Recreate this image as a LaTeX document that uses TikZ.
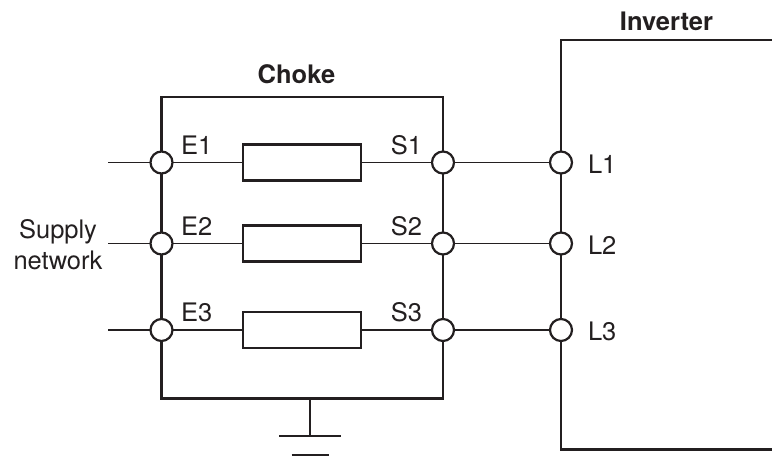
\documentclass[tikz,border=0pt]{standalone}
\usepackage{fontspec}
\setmainfont{TeX Gyre Heros}
\usetikzlibrary{positioning}
\definecolor{ink}{RGB}{35,31,32}
\tikzset{
    terminal/.style={draw=ink,fill=white,circle,line width=2.2pt,minimum size=22pt,inner sep=0pt,outer sep=0pt},
    coil/.style={draw=ink,rectangle,line width=2.4pt,minimum width=118pt,minimum height=36pt,inner sep=0pt,outer sep=0pt},
    wire/.style={ink,line width=1.3pt},
    frame/.style={ink,line width=2.7pt},
    tag/.style={inner sep=0pt,outer sep=0pt,text=ink},
}

\begin{document}
\begin{tikzpicture}[x=1pt,y=-1pt,font=\fontsize{25.5}{31}\selectfont]
    \useasboundingbox (0,0) rectangle (772,468);
    % choke and inverter frames
    \draw[frame] (161.5,97) rectangle (443,398.5);
    \draw[frame] (772,40) -| (561,449.5) -- (772,449.5);
    \node[tag,font=\fontsize{25.5}{31}\selectfont\bfseries] (choke) at (296.5,74) {Choke};
    \node[tag,font=\fontsize{25.5}{31}\selectfont\bfseries] (inverter) at (666.5,21) {Inverter};
    \node[tag,align=center] (supply) at (58,244.5) {Supply\\network};

    \foreach \y [count = \n] in {162.5,243.5,330}{%
        \node[terminal] (E\n) at (161.5,\y) {};
        \node[terminal] (S\n) at (443,\y) {};
        \node[terminal] (L\n) at (561,\y) {};
        \node[coil] (R\n) at (302,\y) {};
        \coordinate (in\n) at (108,\y);
        \node[tag,anchor=west] (tE\n) at ([xshift=19.5pt,yshift=17.5pt]E\n.center) {E\n};
        \node[tag,anchor=east] (tS\n) at ([xshift=-21pt,yshift=17.5pt]S\n.center) {S\n};
        \node[tag,anchor=west] (tL\n) at ([xshift=27pt,yshift=-1.5pt]L\n.center) {L\n};
        \draw[wire] (in\n) -- (E\n) (E\n) -- (R\n) (R\n) -- (S\n) (S\n) -- (L\n);
    }

    % earth
    \coordinate (gnd) at (310,398.5);
    \coordinate (gnd1) at (310,436);
    \coordinate (gnd2) at (310,454.5);
    \draw[wire,line width=2pt] (gnd) -- (gnd1);
    \draw[wire,line width=2pt] ([xshift=-31pt]gnd1) -- ([xshift=31pt]gnd1);
    \draw[wire,line width=2pt] ([xshift=-18.5pt]gnd2) -- ([xshift=18.5pt]gnd2);

\end{tikzpicture}
\end{document}
